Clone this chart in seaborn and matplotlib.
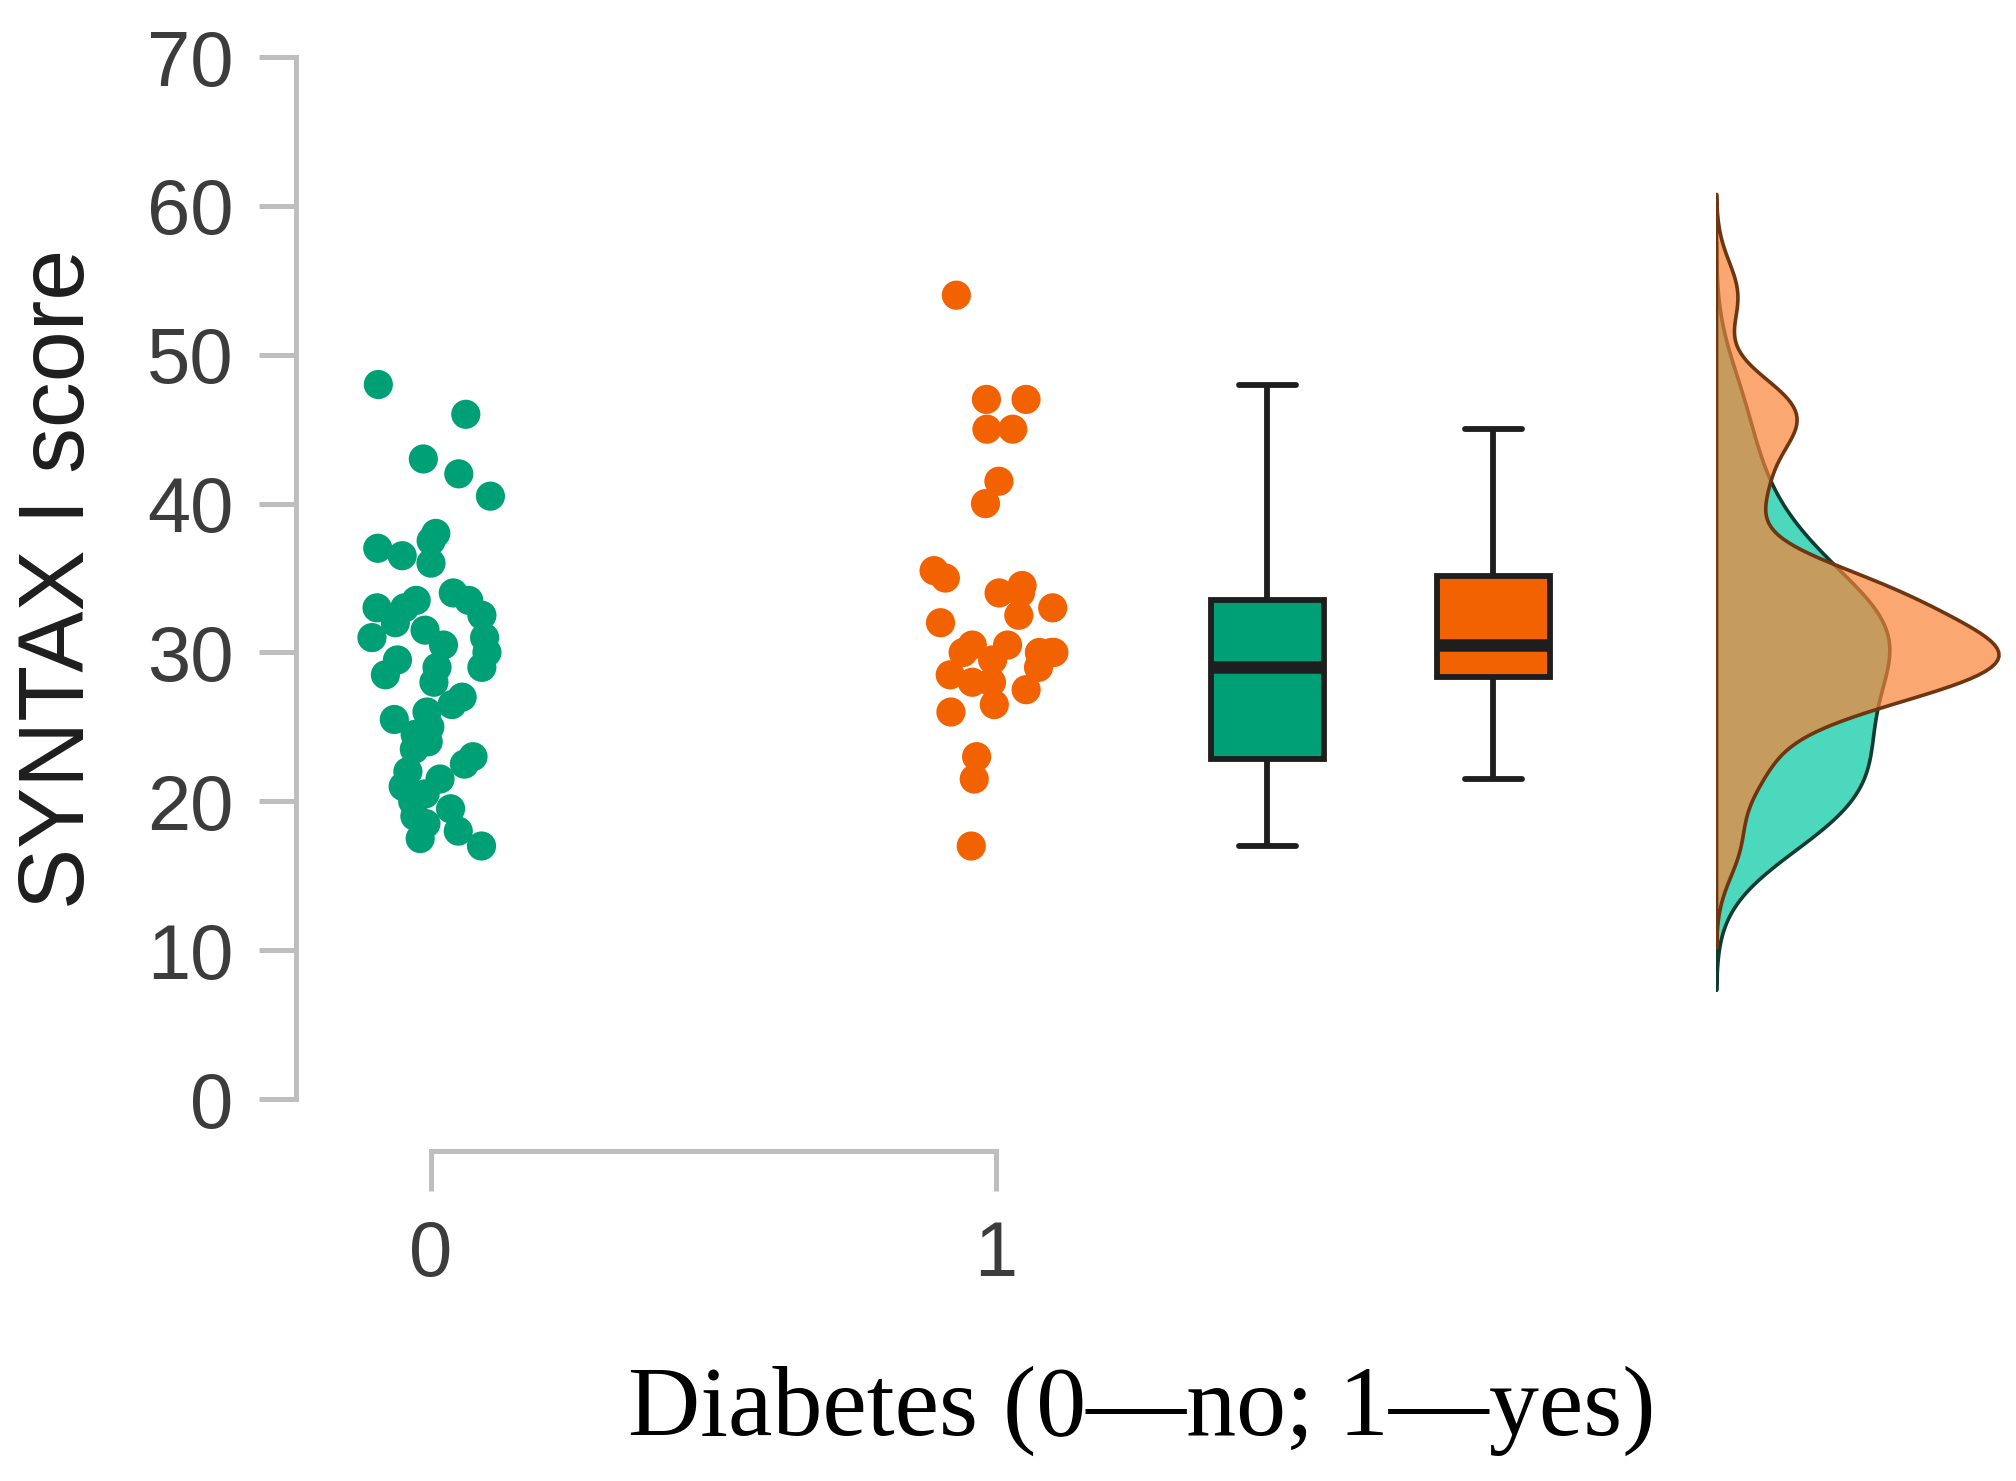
import numpy as np
import pandas as pd
import seaborn as sns
import matplotlib.pyplot as plt

# SYNTAX I score
syntax_no = [48, 46, 43, 42, 40.5,
             38, 37.5, 37, 36.5, 36, 34, 33.5, 33.5, 33, 33,
             32.5, 32, 31.5, 31, 31, 30.5, 30, 29.5, 29, 29,
             28.5, 28, 27, 26.5, 26, 25.5, 25, 24.5, 24, 23.5,
             23, 22.5, 22, 21.5, 21, 20.5, 20, 19.5, 19, 18.5,
             18, 17.5, 17]
syntax_yes = [54, 47, 47, 45, 45, 41.5, 40,
              35.5, 35, 34.5, 34, 34, 33, 32.5, 32,
              30.5, 30.5, 30, 30, 30, 30, 29.5, 29, 28.5,
              28, 28, 27.5, 26.5, 26, 23, 21.5, 17]
group_labels = ['0', '1']
y_ticks = [0, 10, 20, 30, 40, 50, 60, 70]

green = '#00A077'
orange = '#F26200'
kde_green = '#00C8A0'
kde_orange = '#FA8237'

df = pd.DataFrame({
    'group': ['0'] * len(syntax_no) + ['1'] * len(syntax_yes),
    'syntax': syntax_no + syntax_yes,
})
df['dot_x'] = df['group'].astype(int)
# boxes sit to the right of the dots
df['box_x'] = df['group'].map({'0': 1.48, '1': 1.88})
pal = {'0': green, '1': orange}

sns.set_style('ticks')
plt.rcParams['font.family'] = ['Liberation Sans', 'DejaVu Sans']

fig = plt.figure(figsize=(10.08, 7.405), dpi=200)
ax = fig.add_axes([0.1468, 0.2228, 0.8532, 0.7387])

np.random.seed(7)
sns.stripplot(data=df, x='dot_x', y='syntax', hue='group', palette=pal,
              native_scale=True, jitter=0.11, size=10.5, linewidth=0,
              legend=False, ax=ax)

sns.boxplot(data=df, x='box_x', y='syntax', hue='group', palette=pal,
            native_scale=True, width=0.5, dodge=False, saturation=1,
            showfliers=False, linecolor='#1e1e1e', linewidth=2.1,
            medianprops={'linewidth': 4.5}, legend=False, ax=ax)

# half densities on the right
kax = ax.inset_axes([2.274, -3.49, 0.53, 73.49], transform=ax.transData, sharey=ax)
for vals, col, edge in [(syntax_no, kde_green, '#0d3b30'),
                        (syntax_yes, kde_orange, '#6e3510')]:
    v = np.asarray(vals, dtype=float)
    sd = v.std(ddof=1)
    iqr = np.percentile(v, 75) - np.percentile(v, 25)
    bw = 0.9 * min(sd, iqr / 1.34) * len(v) ** -0.2  # R's bw.nrd0
    sns.kdeplot(y=v, fill=True, bw_method=bw / sd, cut=3, color=col, alpha=0.7,
                edgecolor=edge, linewidth=1.3, ax=kax)
dmax = kax.dataLim.x1
kax.set_xlim(0, dmax * 0.53 / 0.50)
kax.set_xlabel('')
kax.set_ylabel('')
kax.set_xticks([])
kax.tick_params(labelleft=False, labelbottom=False, left=False, bottom=False)
kax.axis('off')

sns.despine(ax=ax)
ax.spines['left'].set_bounds(0, 70)
ax.spines['bottom'].set_bounds(0, 1)
for s in ['left', 'bottom']:
    ax.spines[s].set_color('#bebebe')
    ax.spines[s].set_linewidth(1.8)

ax.set_xticks([0, 1], group_labels)
ax.set_yticks(y_ticks)
ax.tick_params(axis='both', colors='#bebebe', labelcolor='#3c3c3c', labelsize=28, width=1.8,
               bottom=True, left=True)
ax.tick_params(axis='y', length=13.5, pad=9)
ax.tick_params(axis='x', length=14.4, pad=10)
ax.set_xlim(-0.239, 2.805)
ax.set_ylim(-3.49, 70)

ax.set_ylabel('SYNTAX I score', fontsize=33, color='#1e1e1e', va='center', rotation_mode='anchor')
ax.yaxis.set_label_coords(-0.1371, 0.5228)
ax.set_xlabel('Diabetes (0\u2014no; 1\u2014yes)', family=['Liberation Serif', 'DejaVu Serif'],
              fontsize=36, color='black', va='baseline')
ax.xaxis.set_label_coords(0.4919, -0.2595)

fig.savefig('out.png', dpi=200)
